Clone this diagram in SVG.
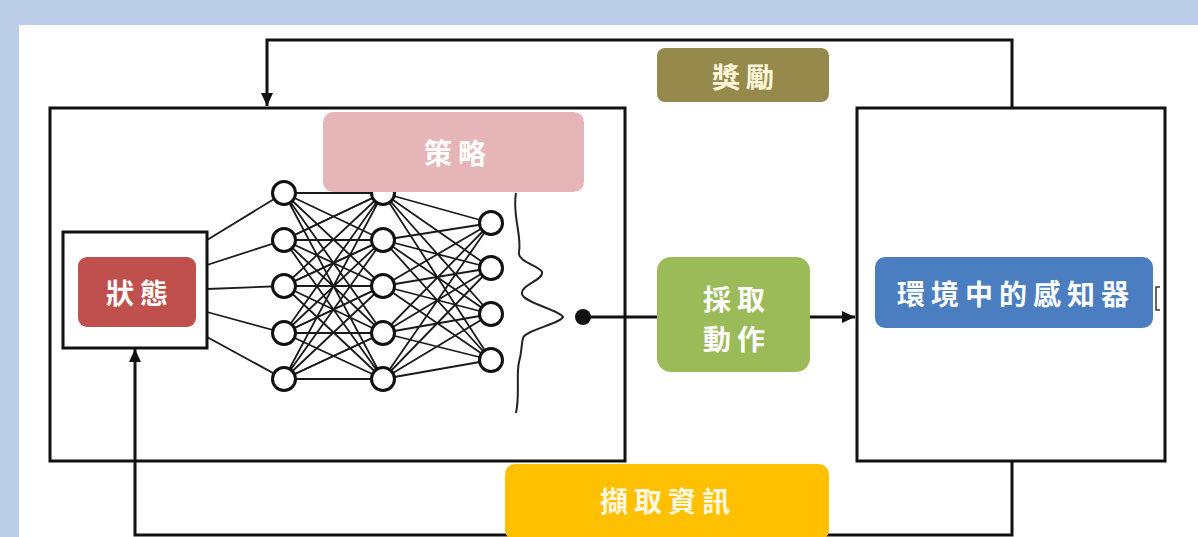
<svg xmlns="http://www.w3.org/2000/svg" width="1198" height="537" viewBox="0 0 1198 537">
<style>
.frame{fill:none;stroke:#111;stroke-width:3}
.conn{fill:none;stroke:#111;stroke-width:3}
.net{stroke:#1a1a1a;stroke-width:1.8;fill:none}
.node{fill:#fff;stroke:#111;stroke-width:3}
.lbl{font-family:"Noto Sans CJK TC","Noto Sans CJK SC",sans-serif;font-weight:bold;font-size:28px;text-anchor:middle;dominant-baseline:central;fill:#fff;letter-spacing:6px}
</style>
<defs>
<marker id="ah" markerUnits="userSpaceOnUse" markerWidth="14" markerHeight="12" refX="13" refY="6" orient="auto">
<path d="M0,0 L13,6 L0,12 z" fill="#111"/>
</marker>
</defs>
<rect x="0" y="0" width="1198" height="537" fill="#BCCDE8"/>
<rect x="19" y="25" width="1179" height="512" fill="#fff"/>

<g id="agent"><rect class="frame" x="50" y="108" width="575" height="353"/></g>
<g id="environment"><rect class="frame" x="857" y="108" width="308" height="353"/></g>

<g id="connectors">
<path class="conn" d="M1012,108 V40 H267 V106" marker-end="url(#ah)"/>
<path class="conn" d="M1012,461 V535 H135 V349" marker-end="url(#ah)"/>
<path class="conn" d="M583,317 H657"/>
<circle cx="583" cy="317" r="8" fill="#111"/>
<path class="conn" d="M810,317 H855" marker-end="url(#ah)"/>
</g>

<g id="network">
<g class="net">
<path d="M207,240 L284,193 M207,265 L284,240 M207,289 L284,286 M207,312 L284,333 M207,337 L284,379"/>
<path d="M284,193 L383,193 L284,240 L383,240 L284,286 L383,286 L284,333 L383,333 L284,379 L383,379"/>
<path d="M284,193 L383,240 M284,193 L383,286 M284,193 L383,333 M284,193 L383,379
M284,240 L383,193 M284,240 L383,286 M284,240 L383,333 M284,240 L383,379
M284,286 L383,193 M284,286 L383,240 M284,286 L383,333 M284,286 L383,379
M284,333 L383,193 M284,333 L383,240 M284,333 L383,286 M284,333 L383,379
M284,379 L383,193 M284,379 L383,240 M284,379 L383,286 M284,379 L383,333"/>
<path d="M383,193 L491,223 M383,193 L491,268 M383,193 L491,314 M383,193 L491,360
M383,240 L491,223 M383,240 L491,268 M383,240 L491,314 M383,240 L491,360
M383,286 L491,223 M383,286 L491,268 M383,286 L491,314 M383,286 L491,360
M383,333 L491,223 M383,333 L491,268 M383,333 L491,314 M383,333 L491,360
M383,379 L491,223 M383,379 L491,268 M383,379 L491,314 M383,379 L491,360"/>
</g>
<g>
<circle class="node" cx="284" cy="193" r="11.5"/><circle class="node" cx="284" cy="240" r="11.5"/><circle class="node" cx="284" cy="286" r="11.5"/><circle class="node" cx="284" cy="333" r="11.5"/><circle class="node" cx="284" cy="379" r="11.5"/>
<circle class="node" cx="383" cy="193" r="11.5"/><circle class="node" cx="383" cy="240" r="11.5"/><circle class="node" cx="383" cy="286" r="11.5"/><circle class="node" cx="383" cy="333" r="11.5"/><circle class="node" cx="383" cy="379" r="11.5"/>
<circle class="node" cx="491" cy="223" r="11.5"/><circle class="node" cx="491" cy="268" r="11.5"/><circle class="node" cx="491" cy="314" r="11.5"/><circle class="node" cx="491" cy="360" r="11.5"/>
</g>
<path d="M516,193 C512,215 522,235 519,252 C517,262 540,266 542,272 C544,280 520,285 522,294 C524,303 560,310 563,317 C560,324 525,330 523,338 C521,346 522,352 519,362 C516,375 520,395 516,413" fill="none" stroke="#222" stroke-width="2"/>
</g>

<g id="state">
<rect x="63" y="232" width="144" height="116" fill="#fff" stroke="#111" stroke-width="3"/>
<rect x="78" y="257" width="118" height="70" rx="9" fill="#C0504D"/>
<text class="lbl" x="140" y="292">狀態</text>
</g>

<g id="policy">
<rect x="323" y="112" width="261" height="80" rx="10" fill="#E6B5B7"/>
<text class="lbl" x="458" y="152">策略</text>
</g>

<g id="reward">
<rect x="657" y="48" width="172" height="54" rx="8" fill="#958A4C"/>
<text class="lbl" x="746" y="76" style="fill:#FFF6DA">獎勵</text>
</g>

<g id="action">
<rect x="657" y="257" width="153" height="115" rx="14" fill="#9BBB59"/>
<text class="lbl" x="737" y="298">採取</text>
<text class="lbl" x="737" y="338">動作</text>
</g>

<g id="sensor">
<rect x="875" y="257" width="278" height="71" rx="10" fill="#4A7EC0"/>
<text class="lbl" x="1016" y="293" style="letter-spacing:6px">環境中的感知器</text>
<path d="M1160,287 H1156 V310 H1160" fill="none" stroke="#333" stroke-width="1.5"/>
</g>

<g id="capture">
<rect x="505" y="464" width="324" height="76" rx="10" fill="#FFC000"/>
<text class="lbl" x="668" y="500" style="fill:#FFF8E0">擷取資訊</text>
</g>
</svg>
